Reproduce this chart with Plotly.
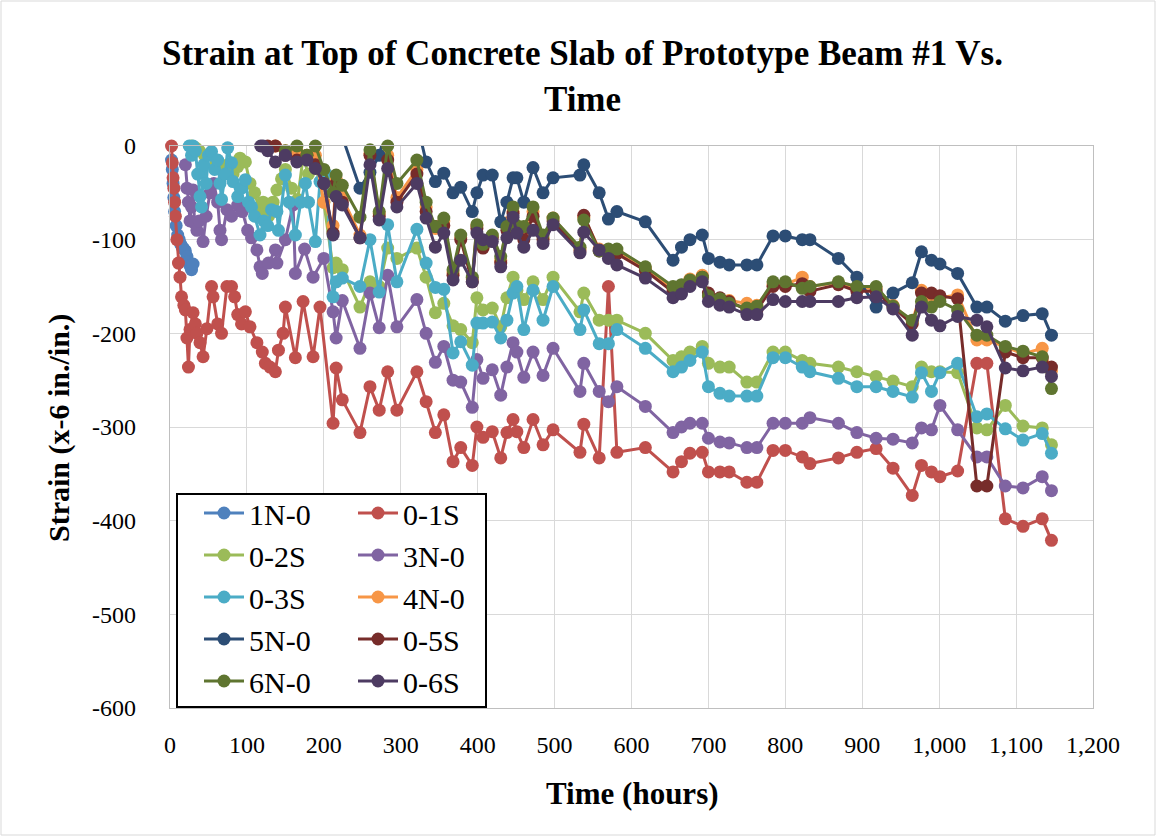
import plotly.graph_objects as go

# ---------------- data ----------------
T_MAIN = [212, 216, 224, 247, 260, 272, 283, 295, 321, 333,
          345, 356, 368, 378, 393, 399, 407, 419, 430, 438,
          446, 451, 460, 472, 485, 498, 533, 538, 558, 570,
          581, 618, 654, 665, 676, 692, 700, 715, 727, 750,
          763, 784, 800, 822, 832, 869, 893, 918, 940, 965,
          977, 990, 1001, 1024, 1049, 1062, 1086, 1109, 1134, 1146]

T_1N0 = [2, 3, 4, 5, 6, 8, 10, 12, 14, 16, 18, 20, 22, 24, 26, 28, 30]
V_1N0 = [-15, -25, -40, -55, -70, -85, -95, -100, -105, -108, -110, -112, -118, -124, -128, -132, -126]

T_01S_EARLY = [2, 3, 4, 5, 6, 7, 9, 11, 13, 15, 18, 20, 22, 24, 26, 30, 33, 35, 39, 43,
               48, 54, 56, 62, 67, 74, 80, 84, 88, 93, 98, 104, 113, 120, 124, 130, 137, 141, 147, 150,
               163, 173, 186, 195]
V_01S_EARLY = [0, -18, -34, -45, -60, -75, -100, -125, -140, -161, -170, -175, -205, -236, -196, -178, -190, -200, -210, -225,
               -195, -150, -161, -190, -200, -150, -150, -161, -180, -190, -177, -193, -210, -220, -232, -236, -241, -218, -200, -172,
               -226, -166, -225, -172]
V_01S_MAIN = [-296, -237, -271, -306, -257, -282, -241, -282, -241, -273,
              -306, -287, -337, -322, -341, -300, -311, -305, -333, -306,
              -292, -305, -322, -292, -319, -303, -327, -297, -333, -150,
              -327, -322, -348, -337, -328, -327, -348, -348, -348, -359,
              -359, -325, -325, -332, -339, -333, -327, -323, -344, -373,
              -341, -348, -353, -347, -232, -232, -398, -406, -398, -421]

T_02S_EARLY = [28, 33, 38, 45, 52, 60, 67, 75, 82, 88, 91, 98, 104, 110, 117, 121, 128, 134, 139, 145,
               150, 158, 166, 173, 180, 189, 200]
V_02S_EARLY = [0, -2, -5, -10, -8, -18, -25, -20, -30, -22, -13, -17, -40, -50, -70, -60, -75, -60, -47, -35,
               -25, -45, -57, -12, -30, -20, -60]
V_02S_MAIN = [-130, -125, -132, -172, -145, -150, -109, -120, -109, -140,
              -178, -168, -192, -196, -210, -162, -175, -173, -193, -162,
              -140, -154, -164, -145, -164, -140, -177, -157, -186, -186,
              -186, -200, -229, -225, -220, -214, -232, -236, -236, -252,
              -252, -220, -220, -229, -232, -236, -241, -246, -251, -257,
              -236, -241, -241, -242, -301, -303, -277, -299, -301, -319]

T_3N0_EARLY = [20, 22, 24, 26, 28, 30, 32, 35, 38, 43, 47, 52, 57, 62, 65, 67, 74, 80, 88, 94,
               101, 106, 113, 117, 120, 128, 137, 139, 150, 160, 163, 175, 186, 200]
V_3N0_EARLY = [-20, -45, -60, -80, -65, -47, -82, -90, -80, -102, -75, -50, -40, -60, -90, -100, -68, -75, -63, -70,
               -90, -98, -111, -129, -136, -125, -111, -125, -100, -63, -136, -110, -140, -120]
V_3N0_MAIN = [-177, -205, -165, -216, -157, -194, -138, -193, -164, -200,
              -231, -214, -250, -252, -279, -228, -248, -239, -266, -236,
              -210, -220, -247, -220, -245, -216, -262, -232, -262, -273,
              -257, -278, -306, -300, -296, -296, -312, -316, -317, -322,
              -322, -296, -296, -296, -290, -296, -306, -312, -313, -317,
              -301, -303, -277, -303, -332, -332, -363, -365, -353, -368]

T_03S_EARLY = [25, 28, 30, 33, 36, 39, 41, 44, 47, 50, 54, 58, 62, 65, 67, 72, 75, 80, 82, 88,
               93, 98, 102, 106, 110, 117, 122, 127, 132, 139, 141, 150, 155, 163, 170, 176, 180, 189, 195, 203]
V_03S_EARLY = [0, -10, 0, -5, -30, -54, -65, -20, -40, -10, -6, -25, -15, -40, -57, -30, -2, -18, -38, -54,
               -45, -36, -60, -65, -75, -95, -80, -85, -68, -70, -90, -31, -60, -95, -60, -40, -60, -102, -38, -30]
V_03S_MAIN = [-161, -145, -141, -150, -100, -156, -84, -145, -89, -125,
              -151, -153, -221, -209, -234, -189, -189, -188, -205, -186,
              -157, -150, -196, -154, -186, -150, -196, -175, -211, -211,
              -196, -216, -241, -236, -229, -220, -257, -264, -267, -267,
              -267, -226, -226, -236, -241, -248, -257, -257, -262, -268,
              -242, -262, -242, -232, -289, -286, -302, -314, -307, -328]

T_4N0_EARLY = [137, 150, 165, 189, 200]
V_4N0_EARLY = [0, -5, -5, -10, -60]
V_4N0_MAIN = [-85, -35, -55, -95, -8, -72, -10, -55, -25, -65,
              -88, -80, -135, -98, -142, -85, -107, -96, -122, -82,
              -70, -88, -95, -70, -98, -77, -110, -76, -110, -112,
              -112, -130, -153, -150, -142, -138, -160, -163, -165, -168,
              -170, -148, -148, -140, -150, -146, -152, -152, -170, -188,
              -154, -160, -162, -159, -207, -207, -215, -222, -216, -240]

V_5N0_MAIN = [20, 30, 10, -45, -28, -10, 25, 20, 25, -17,
              -38, -29, -50, -44, -70, -50, -31, -31, -81, -60,
              -34, -34, -60, -23, -50, -34, -31, -20, -50, -78,
              -70, -81, -122, -108, -100, -95, -120, -124, -127, -127,
              -127, -96, -96, -100, -100, -120, -140, -172, -157, -146,
              -113, -122, -126, -136, -172, -172, -187, -181, -179, -202]

T_05S_EARLY = [127, 137, 150, 165, 178, 189, 200]
V_05S_EARLY = [0, 0, -10, -15, -10, -20, -40]
V_05S_MAIN = [-93, -40, -60, -98, -10, -75, -15, -60, -30, -70,
              -86, -85, -138, -100, -145, -88, -109, -98, -125, -90,
              -72, -90, -100, -75, -100, -80, -112, -74, -112, -115,
              -115, -133, -156, -152, -145, -140, -157, -162, -166, -175,
              -175, -150, -150, -147, -155, -148, -155, -155, -172, -190,
              -157, -157, -160, -163, -363, -363, -220, -226, -226, -236]

T_6N0_EARLY = [150, 165, 178, 189, 200]
V_6N0_EARLY = [-5, 0, -10, 0, -25]
V_6N0_MAIN = [-50, -31, -42, -76, -4, -70, 0, -40, -15, -60,
              -86, -77, -132, -95, -140, -84, -105, -95, -118, -86,
              -65, -85, -86, -65, -95, -77, -108, -79, -112, -110,
              -110, -129, -150, -148, -143, -140, -160, -163, -168, -173,
              -171, -145, -145, -152, -150, -145, -150, -150, -171, -186,
              -166, -172, -166, -175, -202, -202, -214, -219, -225, -259]

T_06S_EARLY = [118, 121, 127, 137, 150, 165, 178, 189, 200]
V_06S_EARLY = [0, 0, -5, -17, -10, -17, -15, -24, -40]
V_06S_MAIN = [-95, -54, -63, -98, -20, -79, -24, -65, -40, -77,
              -108, -93, -143, -122, -145, -93, -100, -102, -129, -98,
              -76, -93, -108, -90, -104, -84, -114, -92, -111, -120,
              -127, -141, -162, -158, -150, -145, -166, -170, -172, -180,
              -180, -164, -166, -166, -166, -166, -162, -161, -174, -202,
              -172, -186, -192, -182, -186, -193, -237, -240, -236, -246]

NAMES = ["1N-0", "0-1S", "0-2S", "3N-0", "0-3S", "4N-0", "5N-0", "0-5S", "6N-0", "0-6S"]
COLORS = ["#4F81BD", "#C0504D", "#9BBB59", "#8064A2", "#4BACC6",
          "#F79646", "#2C4D75", "#772C2A", "#5F7530", "#4D3B62"]

SERIES_X = [T_1N0, T_01S_EARLY + T_MAIN, T_02S_EARLY + T_MAIN, T_3N0_EARLY + T_MAIN,
            T_03S_EARLY + T_MAIN, T_4N0_EARLY + T_MAIN, T_MAIN, T_05S_EARLY + T_MAIN,
            T_6N0_EARLY + T_MAIN, T_06S_EARLY + T_MAIN]
SERIES_Y = [V_1N0, V_01S_EARLY + V_01S_MAIN, V_02S_EARLY + V_02S_MAIN, V_3N0_EARLY + V_3N0_MAIN,
            V_03S_EARLY + V_03S_MAIN, V_4N0_EARLY + V_4N0_MAIN, V_5N0_MAIN, V_05S_EARLY + V_05S_MAIN,
            V_6N0_EARLY + V_6N0_MAIN, V_06S_EARLY + V_06S_MAIN]

Y_TICKS = [0, -100, -200, -300, -400, -500, -600]
Y_TICK_TEXT = ["0", "-100", "-200", "-300", "-400", "-500", "-600"]

FONT = "Liberation Serif, Times New Roman, serif"

# ---------------- figure ----------------
W, H = 1157, 837
ML, MR, MT, MB = 170, 64, 146, 129
PW, PH = W - ML - MR, H - MT - MB


def px2paper_x(px):
    return (px - ML) / PW


def px2paper_y(py):
    return (H - MB - py) / PH


fig = go.Figure()
for i, (name, color, xs, ys) in enumerate(zip(NAMES, COLORS, SERIES_X, SERIES_Y)):
    fig.add_trace(go.Scatter(
        x=xs, y=ys, mode="lines+markers", name=name,
        line=dict(color=color, width=3),
        marker=dict(color=color, size=13),
        cliponaxis=(name == "5N-0"),
        legend="legend" if i % 2 == 0 else "legend2",
    ))

legend_common = dict(
    xanchor="left", yanchor="top", bgcolor="rgba(0,0,0,0)", borderwidth=0,
    font=dict(family=FONT, size=30, color="black"), itemwidth=40,
    orientation="v",
)

fig.update_layout(
    width=W, height=H,
    margin=dict(l=ML, r=MR, t=MT, b=MB, autoexpand=False),
    paper_bgcolor="white", plot_bgcolor="white",
    xaxis=dict(
        range=[0, 1200], dtick=100, tick0=0, tickformat=",d",
        showgrid=True, gridcolor="#D9D9D9", gridwidth=1.3,
        showline=True, linecolor="#BFBFBF", linewidth=1.3, mirror=True,
        zeroline=False, ticks="", ticklabelstandoff=15,
        tickfont=dict(family=FONT, size=24, color="black"),
    ),
    yaxis=dict(
        range=[-600, 0], tickmode="array", tickvals=Y_TICKS, ticktext=Y_TICK_TEXT,
        showgrid=True, gridcolor="#D9D9D9", gridwidth=1.3,
        showline=True, linecolor="#BFBFBF", linewidth=1.3, mirror=True,
        zeroline=False, ticks="", ticklabelstandoff=28,
        tickfont=dict(family=FONT, size=24, color="black"),
    ),
    legend=dict(x=px2paper_x(199), y=px2paper_y(487), **legend_common),
    legend2=dict(x=px2paper_x(353), y=px2paper_y(487), **legend_common),
    showlegend=True,
    shapes=[
        dict(type="rect", xref="paper", yref="paper",
             x0=px2paper_x(177), x1=px2paper_x(486), y0=px2paper_y(707), y1=px2paper_y(494),
             line=dict(color="black", width=2), fillcolor="white", layer="above"),
        dict(type="rect", xref="paper", yref="paper",
             x0=px2paper_x(1), x1=px2paper_x(W - 2), y0=px2paper_y(H - 2), y1=px2paper_y(1),
             line=dict(color="#D9D9D9", width=1), fillcolor="rgba(0,0,0,0)", layer="below"),
    ],
    annotations=[
        dict(text="<b>Strain at Top of Concrete Slab of Prototype Beam #1 Vs.<br>Time</b>",
             xref="paper", yref="paper", x=px2paper_x(582), y=px2paper_y(76),
             showarrow=False, xanchor="center", yanchor="middle", align="center",
             font=dict(family=FONT, size=35, color="black")),
        dict(text="<b>Strain (x-6 in./in.)</b>", xref="paper", yref="paper",
             x=px2paper_x(59), y=px2paper_y(428), textangle=-90, showarrow=False,
             xanchor="center", yanchor="middle",
             font=dict(family=FONT, size=30, color="black")),
        dict(text="<b>Time (hours)</b>", xref="paper", yref="paper",
             x=px2paper_x(632), y=px2paper_y(793), showarrow=False,
             xanchor="center", yanchor="middle",
             font=dict(family=FONT, size=31, color="black")),
    ],
)

fig.write_html("out.html")
